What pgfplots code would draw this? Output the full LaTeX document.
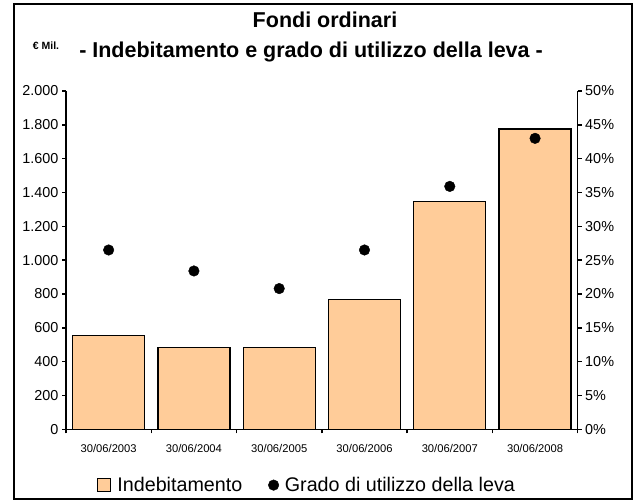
\documentclass[border=0pt]{standalone}
\usepackage{pgfplots}
\pgfplotsset{compat=1.18}
\usepackage{fontspec}
\setmainfont{Liberation Sans}
\definecolor{barcol}{RGB}{255,204,153}
\begin{document}
\begin{tikzpicture}[x=1pt,y=1pt]
\useasboundingbox (0,0) rectangle (634,502);
\draw[line width=2pt] (14,3) rectangle (632,498);
\node[font=\fontsize{21.5}{24}\selectfont\bfseries] at (325,482) {Fondi ordinari};
\node[font=\fontsize{21.5}{24}\selectfont\bfseries] at (311,450) {- Indebitamento e grado di utilizzo della leva -};
\node[font=\fontsize{10.5}{12}\selectfont\bfseries] at (46,456) {€ Mil.};
\begin{axis}[
  at={(66pt,72.7pt)}, anchor=south west,
  scale only axis, width=511.7pt, height=338.3pt,
  xmin=-0.5, xmax=5.5, ymin=0, ymax=2000,
  axis x line*=bottom, axis y line*=left,
  axis line style={line width=1.5pt,-},
  every tick/.style={black,line width=1.5pt},
  ytick={0,200,...,2000},
  xtick={0,...,5},
  xticklabels={30/06/2003,30/06/2004,30/06/2005,30/06/2006,30/06/2007,30/06/2008},
  major x tick style={draw=none},
  minor xtick={-0.5,0.5,...,5.5},
  tick align=outside, major tick length=4pt, minor tick length=4pt,
  /pgf/number format/.cd, 1000 sep={.}, assume math mode=true, /pgfplots/.cd,
  yticklabel style={font=\fontsize{14.4}{16}\selectfont},
  xticklabel style={font=\fontsize{11.2}{13}\selectfont, yshift=-8pt},
]
\addplot[ybar, bar width=72pt, fill=barcol, draw=black, line width=1.3pt]
  coordinates {(0,556) (1,483) (2,483) (3,768) (4,1346) (5,1775)};
\end{axis}
\begin{axis}[
  at={(66pt,72.7pt)}, anchor=south west,
  scale only axis, width=511.7pt, height=338.3pt,
  xmin=-0.5, xmax=5.5, ymin=0, ymax=50,
  axis x line=none, axis y line*=right,
  axis line style={line width=1.5pt,-},
  every tick/.style={black,line width=1.5pt},
  ytick={0,5,...,50},
  yticklabel={\pgfmathprintnumber{\tick}\%},
  tick align=outside, major tick length=4pt,
  /pgf/number format/.cd, assume math mode=true, /pgfplots/.cd,
  yticklabel style={font=\fontsize{14.4}{16}\selectfont},
  legend columns=2,
  legend style={draw=none, fill=none, at={(0.471,-0.165)}, anchor=center,
    font=\fontsize{19.7}{22}\selectfont,
    /tikz/every odd column/.append style={column sep=4pt},
    /tikz/every even column/.append style={column sep=24pt}},
]
\addlegendimage{legend image code/.code={\draw[fill=barcol,draw=black,line width=1.3pt] (0pt,-6.5pt) rectangle (13pt,6.5pt);}}
\addlegendentry{Indebitamento}
\addplot[only marks, mark=*, mark size=5.3pt, black]
  coordinates {(0,26.5) (1,23.4) (2,20.8) (3,26.5) (4,35.9) (5,43.0)};
\addlegendentry{Grado di utilizzo della leva}
\end{axis}
\end{tikzpicture}
\end{document}
